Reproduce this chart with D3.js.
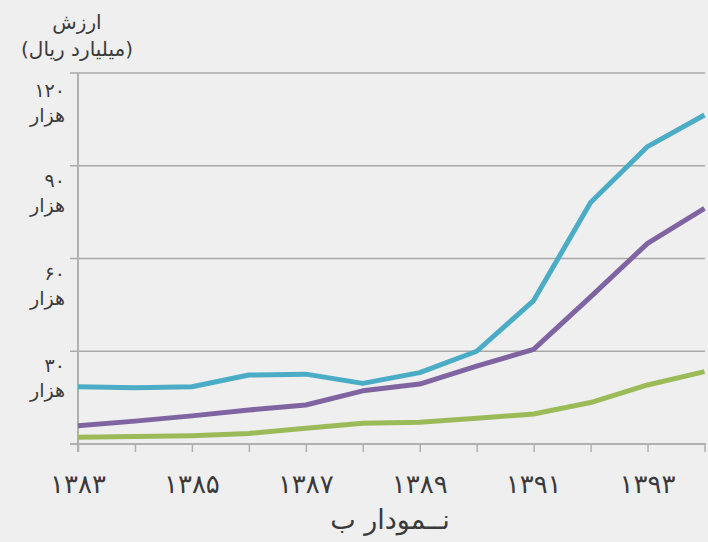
<!DOCTYPE html>
<html>
<head>
<meta charset="utf-8">
<script src="https://cdn.jsdelivr.net/npm/d3@7"></script>
<style>
  html, body { margin: 0; padding: 0; background: #efefef; }
  svg { display: block; font-family: "DejaVu Sans ExtraLight", "DejaVu Sans", sans-serif; }
</style>
</head>
<body>
<svg id="chart" width="708" height="542"></svg>
<script>
// Years (solar calendar) and their axis labels
const years = [1383, 1384, 1385, 1386, 1387, 1388, 1389, 1390, 1391, 1392, 1393, 1394];
const yearLabels = ["۱۳۸۳", "۱۳۸۴", "۱۳۸۵", "۱۳۸۶", "۱۳۸۷", "۱۳۸۸", "۱۳۸۹", "۱۳۹۰", "۱۳۹۱", "۱۳۹۲", "۱۳۹۳", "۱۳۹۴"];

// Values in thousand billion rials
const seriesBlue   = [18.5, 18.2, 18.5, 22.3, 22.6, 19.6, 23.1, 30.0, 46.4, 78.1, 96.2, 106.4];
const seriesPurple = [5.9, 7.4, 9.1, 11.0, 12.6, 17.2, 19.4, 25.2, 30.6, 47.6, 64.9, 76.2];
const seriesGreen  = [2.2, 2.4, 2.7, 3.4, 5.1, 6.7, 7.0, 8.3, 9.7, 13.4, 19.1, 23.4];

// Value axis ticks and labels
const yTicks = [30, 60, 90, 120];
const yTickLabels = ["۳۰", "۶۰", "۹۰", "۱۲۰"];
const thousandWord = "هزار";

const axisTitle = ["ارزش", "(میلیارد ریال)"];
const chartCaption = "نــمودار ب";

const svg = d3.select("#chart");
const textColor = "#3a3a3a";

const x = d3.scalePoint().domain(years).range([78, 704.5]);
const y = d3.scaleLinear().domain([0, 120]).range([444, 73]);

// Horizontal gridlines
svg.append("g").selectAll("line").data(yTicks).join("line")
  .attr("x1", 70).attr("x2", 705)
  .attr("y1", d => y(d)).attr("y2", d => y(d))
  .attr("stroke", "#a8a8a8").attr("stroke-width", 1.5);

// Value axis labels: number on top, "هزار" below
const yl = svg.append("g").attr("fill", textColor).attr("font-size", 19);
yTicks.forEach((v, i) => {
  const top = Math.max(y(v) + 6, 82);
  yl.append("text").attr("x", 65).attr("y", top + 15)
    .attr("text-anchor", "end").text(yTickLabels[i]);
  yl.append("text").attr("x", 65).attr("y", top + 40)
    .attr("text-anchor", "end").text(thousandWord);
});

// Axis title
svg.append("g").attr("fill", textColor).attr("font-size", 20)
  .selectAll("text").data(axisTitle).join("text")
  .attr("x", 77).attr("y", (d, i) => 29 + i * 27)
  .attr("text-anchor", "middle").attr("direction", "rtl")
  .text(d => d);

// Vertical axis line
svg.append("line")
  .attr("x1", x(years[0])).attr("x2", x(years[0]))
  .attr("y1", y(120)).attr("y2", y(0) + 8)
  .attr("stroke", "#b0b0b0").attr("stroke-width", 2);

// Horizontal axis with category ticks
const xAxis = d3.axisBottom(x).tickSize(8).tickFormat("");
const gx = svg.append("g").attr("transform", `translate(0,${y(0)})`).call(xAxis);
gx.select(".domain").attr("stroke", "#b0b0b0").attr("stroke-width", 2)
  .attr("d", `M70,0H706`);
gx.selectAll(".tick line").attr("stroke", "#b0b0b0").attr("stroke-width", 1.5);

// Year labels on every other tick
svg.append("g").attr("fill", textColor).attr("font-size", 26)
  .selectAll("text").data(years.filter((d, i) => i % 2 === 0)).join("text")
  .attr("x", d => x(d)).attr("y", 493)
  .attr("text-anchor", "middle")
  .text(d => yearLabels[years.indexOf(d)]);

// Series lines
const line = d3.line().x((d, i) => x(years[i])).y(d => y(d));
const series = [
  { values: seriesGreen, color: "#9bbb59" },
  { values: seriesPurple, color: "#8064a2" },
  { values: seriesBlue, color: "#4bacc6" }
];
svg.append("g").selectAll("path").data(series).join("path")
  .attr("d", d => line(d.values))
  .attr("fill", "none")
  .attr("stroke", d => d.color)
  .attr("stroke-width", 5)
  .attr("stroke-linejoin", "round");

// Caption
svg.append("text")
  .attr("x", 390).attr("y", 529)
  .attr("text-anchor", "middle").attr("direction", "rtl")
  .attr("font-size", 27).attr("fill", textColor)
  .text(chartCaption);
</script>
</body>
</html>
